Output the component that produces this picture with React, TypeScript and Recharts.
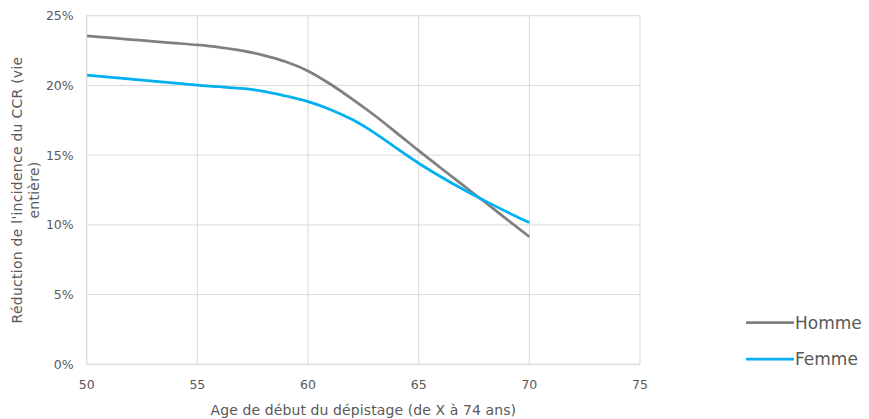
import React from 'react';
import { LineChart, Line, XAxis, YAxis, CartesianGrid } from 'recharts';

const ages = [50, 51, 52, 53, 54, 55, 56, 57, 58, 59, 60, 61, 62, 63, 64, 65, 66, 67, 68, 69, 70];
const hommeValues = [23.55, 23.42, 23.29, 23.16, 23.03, 22.9, 22.73, 22.5, 22.16, 21.7, 21.04, 20.1, 19.02, 17.86, 16.6, 15.32, 14.08, 12.85, 11.62, 10.38, 9.15];
const femmeValues = [20.73, 20.59, 20.45, 20.31, 20.17, 20.02, 19.91, 19.78, 19.58, 19.24, 18.84, 18.28, 17.55, 16.6, 15.5, 14.42, 13.45, 12.55, 11.72, 10.92, 10.16];
const xTicks = [50, 55, 60, 65, 70, 75];
const yTicks = [0, 5, 10, 15, 20, 25];
const seriesKeys = ['homme', 'femme'];
const seriesNames = ['Homme', 'Femme'];
const seriesColors = ['#808080', '#00B0F0'];
const xTitle = 'Age de début du dépistage (de X à 74 ans)';
const yTitleLines = ["Réduction de l'incidence du CCR (vie", 'entière)'];

const data = ages.map((a, i) => ({ age: a, homme: hommeValues[i], femme: femmeValues[i] }));

const FONT = '"DejaVu Sans", sans-serif';
const TEXT = '#595959';
const GRID = '#d9d9d9';

const YTitle = (props: any) => {
  const vb = props.viewBox || {};
  const cy = vb.y + vb.height / 2;
  return (
    <g>
      <text x={16.5} y={cy} transform={`rotate(-90 16.5 ${cy})`} textAnchor="middle" dominantBaseline="central" fill={TEXT} fontSize={14} letterSpacing={0.25} fontFamily={FONT}>
        {yTitleLines[0]}
      </text>
      <text x={33.5} y={cy} transform={`rotate(-90 33.5 ${cy})`} textAnchor="middle" dominantBaseline="central" fill={TEXT} fontSize={14} letterSpacing={0.25} fontFamily={FONT}>
        {yTitleLines[1]}
      </text>
    </g>
  );
};

const XTitle = (props: any) => {
  const vb = props.viewBox || {};
  const cx = vb.x + vb.width / 2;
  return (
    <text x={cx} y={410} textAnchor="middle" dominantBaseline="central" fill={TEXT} fontSize={14} letterSpacing={0.1} fontFamily={FONT}>
      {xTitle}
    </text>
  );
};

const LegendBox = () => (
  <svg width={124} height={60} style={{ position: 'absolute', left: 745, top: 310, display: 'block' }}>
    {seriesNames.map((name, i) => (
      <g key={name}>
        <line x1={1} x2={49} y1={12.7 + i * 36.3} y2={12.7 + i * 36.3} stroke={seriesColors[i]} strokeWidth={2.75} />
        <text x={50} y={12.7 + i * 36.3} dominantBaseline="central" fill={TEXT} fontSize={17} fontFamily={FONT}>
          {name}
        </text>
      </g>
    ))}
  </svg>
);

export default function App() {
  return (
    <div style={{ position: 'absolute', left: 0, top: 0, width: 869, height: 419, background: '#fff' }}>
      <LineChart width={869} height={419} data={data} margin={{ top: 15.7, right: 229, bottom: 24.7, left: 0 }}>
        <CartesianGrid stroke={GRID} strokeWidth={1} />
        <XAxis
          dataKey="age"
          type="number"
          domain={[50, 75]}
          ticks={xTicks}
          height={30}
          axisLine={{ stroke: GRID }}
          tickLine={false}
          tickSize={0}
          tickMargin={15.5}
          tick={{ fill: TEXT, fontSize: 12.5, fontFamily: FONT }}
          label={{ content: <XTitle /> } as any}
        />
        <YAxis
          type="number"
          domain={[0, 25]}
          ticks={yTicks}
          width={86.7}
          axisLine={{ stroke: GRID }}
          tickLine={false}
          tickSize={0}
          tickMargin={13}
          tickFormatter={(v: number) => `${v}%`}
          tick={{ fill: TEXT, fontSize: 12.5, fontFamily: FONT }}
          label={{ content: <YTitle /> } as any}
        />
        {seriesKeys.map((k, i) => (
          <Line key={k} dataKey={k} name={seriesNames[i]} type="monotone" stroke={seriesColors[i]} strokeWidth={2.75} dot={false} isAnimationActive={false} />
        ))}
      </LineChart>
      <LegendBox />
    </div>
  );
}
